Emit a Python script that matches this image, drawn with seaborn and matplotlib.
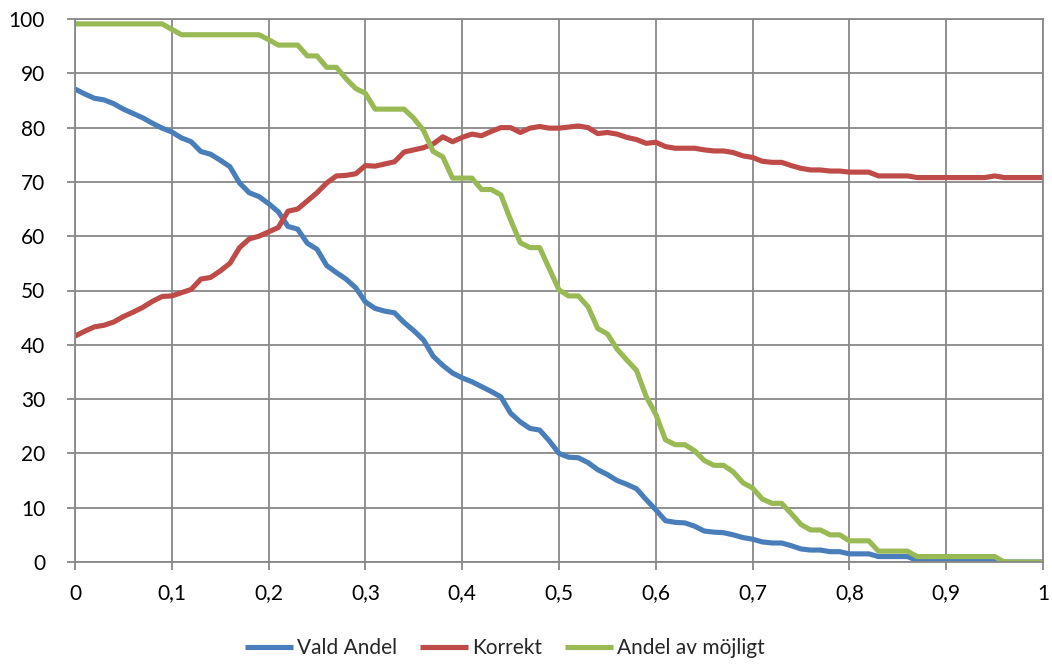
import numpy as np
import pandas as pd
import matplotlib
matplotlib.use("Agg")
import matplotlib.pyplot as plt
import seaborn as sns

x_values = [round(i / 100, 2) for i in range(101)]

vald_andel = [
    87.1, 86.2, 85.4, 85.1, 84.4, 83.4, 82.6, 81.8, 80.8, 79.9,
    79.2, 78.1, 77.4, 75.6, 75.1, 74.0, 72.8, 69.8, 68.0, 67.3,
    66.0, 64.5, 61.8, 61.3, 58.7, 57.6, 54.6, 53.3, 52.1, 50.5,
    47.9, 46.7, 46.2, 45.9, 44.1, 42.6, 40.9, 37.9, 36.2, 34.8,
    33.9, 33.2, 32.3, 31.4, 30.4, 27.4, 25.8, 24.6, 24.3, 22.3,
    20.0, 19.3, 19.2, 18.3, 17.0, 16.1, 15.0, 14.3, 13.5, 11.5,
    9.6, 7.6, 7.3, 7.2, 6.6, 5.7, 5.5, 5.4, 5.0, 4.5,
    4.2, 3.7, 3.5, 3.5, 3.0, 2.4, 2.2, 2.2, 1.9, 1.9,
    1.5, 1.5, 1.5, 1.0, 1.0, 1.0, 1.0, 0.3, 0.3, 0.3,
    0.3, 0.3, 0.3, 0.3, 0.3, 0.3, 0.0, 0.0, 0.0, 0.0,
    0.0,
]

korrekt = [
    41.6, 42.5, 43.3, 43.6, 44.2, 45.2, 46.0, 46.9, 48.0, 48.9,
    49.0, 49.6, 50.2, 52.1, 52.4, 53.6, 55.0, 57.9, 59.5, 60.0,
    60.8, 61.6, 64.6, 65.0, 66.5, 68.0, 69.8, 71.1, 71.2, 71.5,
    73.0, 72.9, 73.3, 73.7, 75.5, 75.9, 76.3, 77.0, 78.3, 77.4,
    78.2, 78.8, 78.5, 79.3, 80.0, 80.0, 79.1, 79.9, 80.2, 79.9,
    79.9, 80.1, 80.3, 80.0, 78.9, 79.1, 78.8, 78.2, 77.8, 77.1,
    77.3, 76.5, 76.2, 76.2, 76.2, 75.9, 75.7, 75.7, 75.4, 74.8,
    74.5, 73.8, 73.6, 73.6, 73.0, 72.5, 72.2, 72.2, 72.0, 72.0,
    71.8, 71.8, 71.8, 71.1, 71.1, 71.1, 71.1, 70.8, 70.8, 70.8,
    70.8, 70.8, 70.8, 70.8, 70.8, 71.1, 70.8, 70.8, 70.8, 70.8,
    70.8,
]

andel_av_mojligt = [
    99.1, 99.1, 99.1, 99.1, 99.1, 99.1, 99.1, 99.1, 99.1, 99.1,
    98.1, 97.1, 97.1, 97.1, 97.1, 97.1, 97.1, 97.1, 97.1, 97.1,
    96.2, 95.2, 95.2, 95.2, 93.2, 93.2, 91.1, 91.1, 89.0, 87.2,
    86.3, 83.4, 83.4, 83.4, 83.4, 81.7, 79.5, 75.6, 74.6, 70.7,
    70.7, 70.7, 68.6, 68.6, 67.6, 63.0, 58.8, 57.9, 57.9, 54.0,
    50.1, 49.0, 49.0, 47.0, 43.0, 42.0, 39.2, 37.2, 35.3, 30.5,
    27.2, 22.5, 21.6, 21.6, 20.5, 18.7, 17.8, 17.8, 16.6, 14.6,
    13.6, 11.6, 10.8, 10.8, 8.9, 6.9, 5.9, 5.9, 5.0, 5.0,
    3.9, 3.9, 3.9, 2.0, 2.0, 2.0, 2.0, 1.0, 1.0, 1.0,
    1.0, 1.0, 1.0, 1.0, 1.0, 1.0, 0.0, 0.0, 0.0, 0.0,
    0.0,
]

series_names = ["Vald Andel", "Korrekt", "Andel av möjligt"]
series_colors = ["#4A7EBB", "#BE4B48", "#98B954"]
x_ticks = [0, 0.1, 0.2, 0.3, 0.4, 0.5, 0.6, 0.7, 0.8, 0.9, 1]
x_tick_labels = ["0", "0,1", "0,2", "0,3", "0,4", "0,5", "0,6", "0,7", "0,8", "0,9", "1"]
y_ticks = list(range(0, 101, 10))

frames = []
for name, vals in zip(series_names, [vald_andel, korrekt, andel_av_mojligt]):
    frames.append(pd.DataFrame({"x": x_values, "value": vals, "serie": name}))
df = pd.concat(frames, ignore_index=True)

sns.set_theme(style="white")
plt.rcParams["font.family"] = ["Lato", "DejaVu Sans"]

W, H = 1052, 667
fig = plt.figure(figsize=(W / 100, H / 100), dpi=100)
ax = fig.add_axes([75 / W, 1 - 562 / H, (1043 - 75) / W, (562 - 19) / H])

sns.lineplot(data=df, x="x", y="value", hue="serie", hue_order=series_names,
             palette=series_colors, linewidth=3.7, ax=ax, legend=True,
             solid_joinstyle="round", solid_capstyle="butt")

grid_color = "#888888"
ax.set_xlim(0, 1)
ax.set_ylim(0, 100)
ax.set_xticks(x_ticks)
ax.set_xticklabels(x_tick_labels)
ax.set_yticks(y_ticks)
ax.grid(True, color=grid_color, linewidth=1.3)
ax.set_axisbelow(True)
for side in ["left", "bottom", "right", "top"]:
    ax.spines[side].set_visible(True)
    ax.spines[side].set_color(grid_color)
    ax.spines[side].set_linewidth(1.3)
ax.tick_params(axis="both", which="major", direction="out", length=5.5, width=1.3,
               color=grid_color, labelsize=15, labelcolor="black",
               bottom=True, left=True)
ax.tick_params(axis="x", pad=10)
ax.tick_params(axis="y", pad=16)
ax.set_xlabel("")
ax.set_ylabel("")

handles, labels = ax.get_legend_handles_labels()
ax.get_legend().remove()
fig.legend(handles, labels, loc="center", bbox_to_anchor=(505 / W, 1 - 648 / H),
           ncol=3, frameon=False, fontsize=15,
           handlelength=2.3, handletextpad=0.2, columnspacing=1.1)

fig.savefig("out.png", dpi=100)
